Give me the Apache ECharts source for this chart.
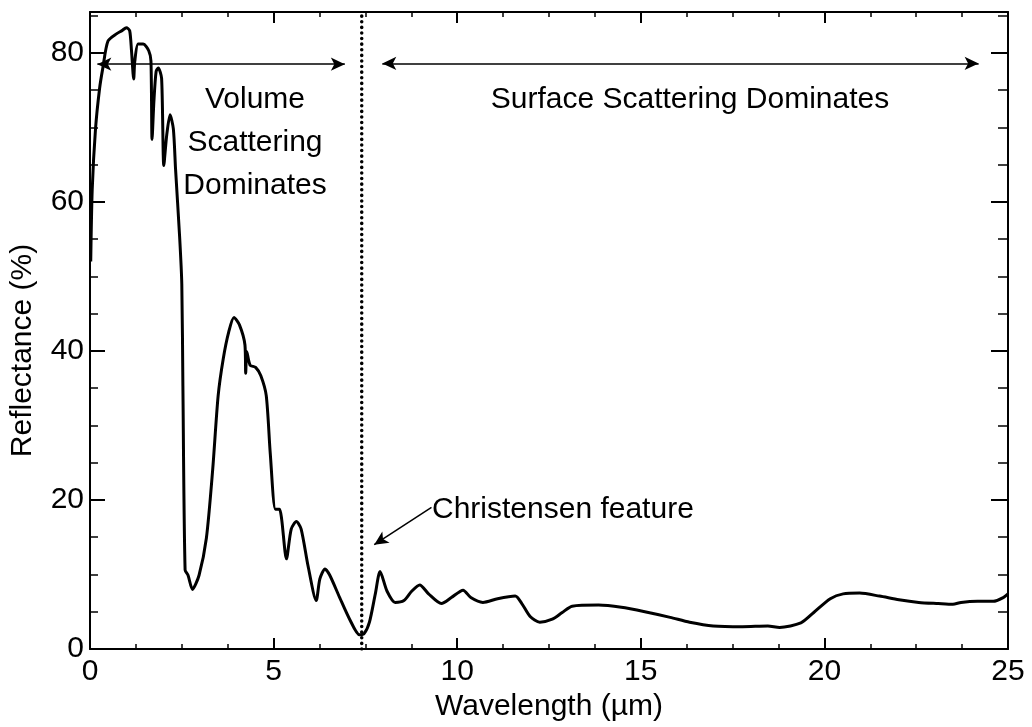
<!DOCTYPE html>
<html>
<head>
<meta charset="utf-8">
<script src="https://cdn.jsdelivr.net/npm/echarts@6/dist/echarts.min.js"></script>
<style>
html,body{margin:0;padding:0;background:#fff;}
#chart{width:1032px;height:727px;}
</style>
</head>
<body>
<div id="chart"></div>
<script>
// Wavelength (µm) and reflectance (%)
const wavelength = [0.02,0.06,0.15,0.26,0.35,0.49,0.73,0.87,0.99,1.08,1.13,1.19,1.22,1.31,1.45,1.60,1.66,1.69,1.74,1.80,1.86,1.95,2.01,2.09,2.18,2.27,2.33,2.44,2.50,2.53,2.59,2.67,2.79,2.97,3.17,3.34,3.49,3.63,3.78,3.92,4.07,4.22,4.24,4.27,4.36,4.51,4.65,4.80,4.91,5.05,5.16,5.22,5.35,5.48,5.62,5.75,5.94,6.16,6.26,6.40,6.53,6.80,7.07,7.34,7.47,7.61,7.77,7.90,8.09,8.31,8.55,8.76,8.98,9.22,9.57,9.84,10.16,10.37,10.70,11.10,11.58,11.76,11.98,12.25,12.59,12.86,13.13,13.85,14.47,15.11,15.80,16.33,16.97,17.77,18.46,18.78,19.36,19.71,20.16,20.51,20.96,21.50,22.03,22.57,23.10,23.50,23.72,24.17,24.60,24.87,25.0];
const reflectance = [52.0,61.6,69.8,75.2,78.0,81.6,82.6,83.0,83.4,83.0,80.3,76.5,78.9,81.2,81.2,80.3,78.9,68.4,73.5,77.5,78.0,76.6,64.9,69.0,71.7,69.8,64.4,55.4,49.0,35.3,10.6,9.9,8.0,9.9,14.9,24.0,34.0,39.0,42.6,44.5,43.5,40.8,37.0,39.9,38.1,37.8,36.7,34.0,26.2,18.75,18.75,17.4,12.1,16.1,17.1,16.1,11.1,6.5,9.4,10.75,9.9,6.9,4.0,1.9,2.1,3.6,7.4,10.4,7.75,6.25,6.5,7.75,8.6,7.4,6.1,6.9,7.9,6.9,6.25,6.75,7.1,6.1,4.4,3.6,4.0,4.9,5.75,5.9,5.6,5.0,4.25,3.6,3.1,3.0,3.1,2.9,3.5,4.9,6.75,7.4,7.5,7.1,6.6,6.25,6.1,6.0,6.25,6.4,6.4,6.9,7.4];

const xTicks = [0,5,10,15,20,25];
const yTicks = [0,20,40,60,80];
const christensenX = 7.4;
const volumeArrow = [0.2, 6.94, 78.5];     // x from, x to, y
const surfaceArrow = [7.96, 24.2, 78.6];
const featureArrow = [[9.3, 19], [7.74, 14]];

const X_MAX = 25, Y_MAX = 85.5;
const FONT = 'Liberation Sans';

const chart = echarts.init(document.getElementById('chart'));
const line = {show: true, onZero: false, lineStyle: {color: '#000', width: 2}};
chart.setOption({
  backgroundColor: '#fff',
  animation: false,
  grid: {left: 88, right: 24, top: 12, bottom: 75},
  xAxis: [
    {
      type: 'value', min: 0, max: X_MAX, interval: 5, position: 'bottom',
      axisLine: line, splitLine: {show: false},
      name: 'Wavelength (\u00b5m)', nameLocation: 'middle', nameGap: 43,
      nameTextStyle: {fontFamily: FONT, fontSize: 30, color: '#000'},
      axisTick: {show: true, inside: true, length: 11, lineStyle: {color: '#000', width: 2}},
      minorTick: {show: true, splitNumber: 4, length: 5, lineStyle: {color: '#000', width: 1.5}},
      axisLabel: {fontFamily: FONT, fontSize: 30, color: '#000', margin: 8,
        formatter: v => xTicks.includes(v) ? String(v) : ''}
    },
    {
      type: 'value', min: 0, max: X_MAX, interval: 5, position: 'top',
      axisLine: line, splitLine: {show: false},
      axisTick: {show: true, inside: true, length: 11, lineStyle: {color: '#000', width: 2}},
      minorTick: {show: true, splitNumber: 4, length: 5, lineStyle: {color: '#000', width: 1.5}},
      axisLabel: {show: false}
    }
  ],
  yAxis: [
    {
      type: 'value', min: 0, max: Y_MAX, interval: 20, position: 'left',
      axisLine: line, splitLine: {show: false},
      name: 'Reflectance (%)', nameLocation: 'middle', nameGap: 52,
      nameTextStyle: {fontFamily: FONT, fontSize: 30, color: '#000', padding: [0, 40, 0, 0]},
      axisTick: {show: true, inside: true, length: 15, lineStyle: {color: '#000', width: 2}},
      minorTick: {show: true, splitNumber: 4, length: 8, lineStyle: {color: '#000', width: 1.5}},
      axisLabel: {fontFamily: FONT, fontSize: 30, color: '#000', margin: 6,
        formatter: v => yTicks.includes(v) ? String(v) : ''}
    },
    {
      type: 'value', min: 0, max: Y_MAX, interval: 20, position: 'right',
      axisLine: line, splitLine: {show: false},
      axisTick: {show: true, inside: true, length: 17, lineStyle: {color: '#000', width: 2}},
      minorTick: {show: true, splitNumber: 4, length: 10, lineStyle: {color: '#000', width: 1.5}},
      axisLabel: {show: false}
    }
  ],
  series: [
    {
      type: 'line',
      data: wavelength.map((w, i) => [w, reflectance[i]]),
      symbol: 'none',
      smooth: 0.25,
      lineStyle: {color: '#000', width: 3, join: 'round'},
      silent: true,
      markLine: {
        silent: true,
        symbol: ['arrow', 'arrow'],
        symbolSize: [10, 14],
        label: {show: false},
        lineStyle: {color: '#000', width: 1.5, type: 'solid'},
        data: [
          [{coord: [volumeArrow[0], volumeArrow[2]]}, {coord: [volumeArrow[1], volumeArrow[2]]}],
          [{coord: [surfaceArrow[0], surfaceArrow[2]]}, {coord: [surfaceArrow[1], surfaceArrow[2]]}],
          [{coord: featureArrow[0], symbol: 'none'}, {coord: featureArrow[1], symbol: 'arrow'}]
        ]
      }
    },
    {
      type: 'line',
      data: [[christensenX, 0], [christensenX, Y_MAX]],
      symbol: 'none',
      silent: true,
      lineStyle: {color: '#000', width: 3.5, type: [0.1, 5.5], cap: 'round'}
    }
  ],
  graphic: [
    {type: 'text', x: 255, y: 143, silent: true,
      style: {text: 'Volume\nScattering\nDominates', textAlign: 'center', textVerticalAlign: 'middle',
        font: '30px "Liberation Sans"', lineHeight: 43, fill: '#000'}},
    {type: 'text', x: 690, y: 100, silent: true,
      style: {text: 'Surface Scattering Dominates', textAlign: 'center', textVerticalAlign: 'middle',
        font: '30px "Liberation Sans"', fill: '#000'}},
    {type: 'text', x: 432, y: 510, silent: true,
      style: {text: 'Christensen feature', textAlign: 'left', textVerticalAlign: 'middle',
        font: '30px "Liberation Sans"', fill: '#000'}}
  ]
});
</script>
</body>
</html>
